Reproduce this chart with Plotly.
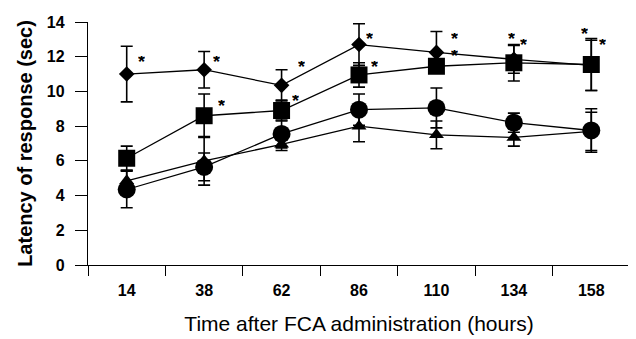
import plotly.graph_objects as go

hours = ["14", "38", "62", "86", "110", "134", "158"]

diamond = [11.0, 11.25, 10.35, 12.7, 12.25, 11.85, 11.5]
diamond_err = [1.6, 1.05, 0.9, 1.2, 1.2, 0.8, 1.45]
square = [6.15, 8.6, 8.9, 10.95, 11.45, 11.65, 11.55]
square_err = [0.7, 1.25, 0.6, 0.7, 0.3, 1.05, 1.5]
circle = [4.35, 5.65, 7.55, 8.95, 9.05, 8.2, 7.75]
circle_err = [1.05, 0.8, 0.8, 0.9, 1.15, 0.55, 1.25]
triangle = [4.85, 6.0, 6.95, 8.0, 7.5, 7.35, 7.7]
triangle_err = [0.6, 1.4, 0.35, 0.9, 0.8, 0.5, 1.1]

# significance asterisks: (category position, value)
star_x = [0.19, 1.16, 2.26, 1.22, 2.18, 3.13, 3.2, 4.23, 4.23, 4.97, 5.12, 5.91, 6.14]
star_y = [11.93, 11.93, 11.65, 9.4, 9.7, 13.27, 11.65, 13.27, 12.3, 13.27, 12.88, 13.55, 12.93]

FONT = "Liberation Sans, Arial, sans-serif"

fig = go.Figure()

def add(yv, err, symbol, size):
    fig.add_trace(go.Scatter(
        x=hours, y=yv, mode="lines+markers",
        line=dict(color="black", width=1.3),
        marker=dict(symbol=symbol, size=size, color="black"),
        error_y=dict(type="data", array=err, visible=True, color="black",
                     thickness=1.6, width=6),
        showlegend=False,
    ))

add(diamond, diamond_err, "diamond", 12)
add(triangle, triangle_err, "triangle-up", 13)
add(circle, circle_err, "circle", 18)
add(square, square_err, "square", 17)

for sx, sy in zip(star_x, star_y):
    fig.add_annotation(x=sx, y=sy, xref="x", yref="y", text="<b>*</b>",
                       showarrow=False, font=dict(size=18, color="black", family=FONT),
                       height=12, valign="middle", yshift=-4)

# page body has an 8px margin, so the figure is shrunk by 8px on each side
fig.update_layout(
    width=628, height=331,
    margin=dict(l=80, r=6, t=7, b=74),
    paper_bgcolor="white", plot_bgcolor="white",
    font=dict(family=FONT, color="black"),
    xaxis=dict(
        type="category", range=[-0.5, 6.5], tickson="boundaries",
        ticks="outside", ticklen=10, tickwidth=1.3, tickcolor="black",
        showline=True, linecolor="black", linewidth=1.3,
        showgrid=False, zeroline=False,
        ticklabelstandoff=11,
        tickfont=dict(size=16, family=FONT, weight="bold"),
        title=dict(text="Time after FCA administration (hours)",
                   font=dict(size=21, family=FONT), standoff=17),
    ),
    yaxis=dict(
        range=[0, 14], tickvals=[0, 2, 4, 6, 8, 10, 12, 14],
        ticks="outside", ticklen=12, tickwidth=1.3, tickcolor="black",
        showline=True, linecolor="black", linewidth=1.3,
        showgrid=False, zeroline=False,
        ticklabelstandoff=7, ticklabeloverflow="allow",
        tickfont=dict(size=16, family=FONT, weight="bold"),
        title=dict(text="<b>Latency of response (sec)</b>",
                   font=dict(size=20, family=FONT), standoff=8),
    ),
)

fig.write_html("out.html")
